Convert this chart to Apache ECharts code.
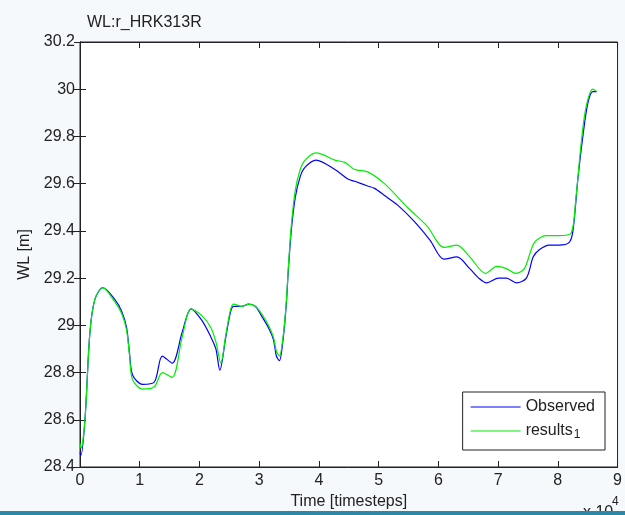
<!DOCTYPE html>
<html>
<head>
<meta charset="utf-8">
<script src="https://cdn.jsdelivr.net/npm/echarts@6/dist/echarts.min.js"></script>
<style>
html,body{margin:0;padding:0;background:#f6f9fc;}
#c{width:625px;height:515px;}
</style>
</head>
<body>
<div id="c"></div>
<script>
var chartTitle = 'WL:r_HRK313R';
var xTickValues = [0, 10000, 20000, 30000, 40000, 50000, 60000, 70000, 80000, 90000];
var yTickValues = [28.4, 28.6, 28.8, 29, 29.2, 29.4, 29.6, 29.8, 30, 30.2];

var obsTime = [0, 170, 830, 1660, 2490, 3820, 5810, 6970, 7800, 8300, 8800, 10460, 12450, 13780, 15440, 17100, 18600, 20430, 21920, 22750, 23410, 24410, 25240, 25740, 27070, 28230, 29390, 30390, 31550, 32380, 32880, 33380, 34040, 34540, 34870, 35370, 36030, 36870, 37700, 39520, 42680, 44840, 46000, 48160, 49320, 50980, 53140, 55960, 58620, 60940, 63100, 65260, 66760, 68080, 70080, 71400, 73070, 74730, 75890, 76890, 78540, 80210, 81870, 82530, 83360, 84190, 85020, 85850, 86520];
var obsWL = [28.46, 28.45, 28.60, 28.97, 29.11, 29.16, 29.11, 29.06, 28.99, 28.88, 28.79, 28.75, 28.76, 28.87, 28.84, 28.97, 29.07, 29.02, 28.95, 28.90, 28.81, 28.95, 29.06, 29.08, 29.08, 29.09, 29.08, 29.04, 28.99, 28.94, 28.87, 28.85, 28.95, 29.09, 29.23, 29.40, 29.54, 29.63, 29.67, 29.70, 29.66, 29.62, 29.61, 29.59, 29.58, 29.55, 29.51, 29.44, 29.36, 29.28, 29.29, 29.24, 29.20, 29.18, 29.20, 29.20, 29.18, 29.20, 29.29, 29.32, 29.34, 29.34, 29.35, 29.40, 29.62, 29.80, 29.94, 29.99, 29.99];

var resTime = [0, 170, 830, 1660, 2490, 3820, 5810, 6970, 7800, 8300, 8800, 10460, 12450, 13780, 15440, 17100, 18600, 20430, 21920, 22750, 23580, 24410, 25240, 25740, 27070, 28230, 29390, 30390, 31550, 32380, 32880, 33380, 34040, 34540, 34870, 35370, 36030, 36870, 37700, 39520, 42680, 44340, 46000, 48160, 50980, 54800, 58120, 60940, 63100, 65260, 67920, 69750, 71400, 72900, 74400, 76060, 78050, 80210, 82200, 83030, 83860, 84690, 85850, 86520];
var resWL = [28.50, 28.48, 28.60, 28.97, 29.11, 29.16, 29.10, 29.05, 28.98, 28.87, 28.77, 28.73, 28.74, 28.80, 28.78, 28.95, 29.07, 29.04, 28.99, 28.93, 28.84, 28.96, 29.07, 29.09, 29.08, 29.09, 29.08, 29.05, 29.00, 28.95, 28.89, 28.87, 28.96, 29.10, 29.24, 29.42, 29.57, 29.66, 29.70, 29.73, 29.70, 29.69, 29.66, 29.65, 29.60, 29.50, 29.42, 29.33, 29.34, 29.29, 29.22, 29.25, 29.24, 29.22, 29.24, 29.35, 29.38, 29.38, 29.39, 29.54, 29.76, 29.92, 30.00, 29.99];

var seriesNames = ['Observed', 'results'];

function pairs(t, v) { return t.map(function (x, i) { return [x, v[i]]; }); }

var FONT = '"Liberation Sans", Arial, sans-serif';
var chart = echarts.init(document.getElementById('c'), null, {renderer: 'canvas'});
var xMin = xTickValues[0], xMax = xTickValues[xTickValues.length - 1];
var yMin = yTickValues[0], yMax = yTickValues[yTickValues.length - 1];

chart.setOption({
  backgroundColor: '#f6f9fc',
  animation: false,
  title: {
    text: chartTitle, left: 82, top: 10,
    textStyle: {fontFamily: FONT, fontSize: 16, fontWeight: 'normal', color: '#222'}
  },
  grid: {left: 80, top: 42, right: 3, bottom: 48, show: true, backgroundColor: '#ffffff', borderColor: '#222', borderWidth: 1},
  legend: {
    right: 20, top: 392, orient: 'vertical',
    data: seriesNames,
    backgroundColor: '#ffffff', borderColor: '#222', borderWidth: 1,
    padding: [7, 10, 9, 8], itemGap: 8,
    icon: 'rect', itemWidth: 50, itemHeight: 1.2,
    formatter: function (n) { return n === 'results' ? 'results{sub|1}' : n; },
    textStyle: {fontFamily: FONT, fontSize: 16, color: '#222',
      rich: {sub: {fontFamily: FONT, fontSize: 12, color: '#222', verticalAlign: 'bottom', padding: [8, 0, 0, 1]}}}
  },
  xAxis: [{
    type: 'value', min: xMin, max: xMax, interval: 10000,
    name: 'Time [timesteps]', nameLocation: 'middle', nameGap: 26,
    nameTextStyle: {fontFamily: FONT, fontSize: 16, color: '#222'},
    axisLine: {show: true, lineStyle: {color: '#222'}},
    axisTick: {show: true, inside: true, length: 6, lineStyle: {color: '#222'}},
    axisLabel: {fontFamily: FONT, fontSize: 16, color: '#222', margin: 6,
      formatter: function (v) { return String(v / 10000); }},
    splitLine: {show: false}
  }, {
    type: 'value', position: 'top', min: xMin, max: xMax, interval: 10000,
    axisLine: {show: true, lineStyle: {color: '#222'}},
    axisTick: {show: true, inside: true, length: 6, lineStyle: {color: '#222'}},
    axisLabel: {show: false}, splitLine: {show: false}
  }],
  yAxis: [{
    type: 'value', min: yMin, max: yMax, interval: 0.2,
    name: 'WL [m]', nameLocation: 'middle', nameGap: 46, nameRotate: 90,
    nameTextStyle: {fontFamily: FONT, fontSize: 16, color: '#222'},
    axisLine: {show: true, lineStyle: {color: '#222'}},
    axisTick: {show: true, inside: true, length: 6, lineStyle: {color: '#222'}},
    axisLabel: {fontFamily: FONT, fontSize: 16, color: '#222', margin: 5,
      formatter: function (v) { return String(Math.round(v * 10) / 10); }},
    splitLine: {show: false}
  }, {
    type: 'value', position: 'right', min: yMin, max: yMax, interval: 0.2,
    axisLine: {show: true, lineStyle: {color: '#222'}},
    axisTick: {show: true, inside: true, length: 6, lineStyle: {color: '#222'}},
    axisLabel: {show: false}, splitLine: {show: false}
  }],
  series: [{
    name: seriesNames[0], type: 'line', data: pairs(obsTime, obsWL),
    showSymbol: false, symbol: 'none', smooth: 0.3,
    lineStyle: {color: '#0000ff', width: 1.2}, itemStyle: {color: '#0000ff'}
  }, {
    name: seriesNames[1], type: 'line', data: pairs(resTime, resWL),
    showSymbol: false, symbol: 'none', smooth: 0.3,
    lineStyle: {color: '#00ee00', width: 1.2}, itemStyle: {color: '#00ee00'}
  }],
  graphic: [
    {type: 'text', left: 583, top: 505, style: {text: 'x 10', font: '16px ' + FONT, fill: '#222'}},
    {type: 'text', left: 612, top: 496, style: {text: '4', font: '12px ' + FONT, fill: '#222'}},
    {type: 'rect', left: 0, top: 511, shape: {width: 625, height: 4}, style: {fill: '#2a88aa'}, z: 100}
  ]
});
</script>
</body>
</html>
